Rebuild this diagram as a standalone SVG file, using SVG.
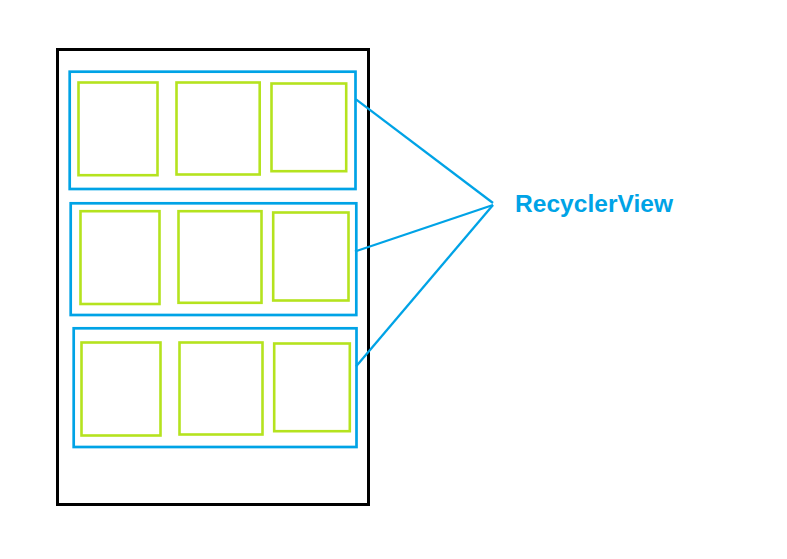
<svg xmlns="http://www.w3.org/2000/svg" width="787" height="559" viewBox="0 0 787 559">
<style>
.frame{fill:none;stroke:#000;stroke-width:3}
.row{fill:none;stroke:#00a3e6;stroke-width:2.7}
.item{fill:none;stroke:#b5e31e;stroke-width:2.6}
.conn{fill:none;stroke:#00a3e6;stroke-width:2.3}
.label{font-family:"Liberation Sans",Arial,sans-serif;font-weight:bold;font-size:24.5px;fill:#00a3e6}
</style>
<rect width="787" height="559" fill="#fff"/>
<g id="phone"><rect class="frame" x="57.5" y="49.5" width="311" height="455"/></g>
<g id="row1">
<rect class="row" x="69.7" y="71.7" width="285.8" height="117.3"/>
<rect class="item" x="78.5" y="82.5" width="79" height="92.7"/>
<rect class="item" x="176.5" y="82.5" width="83.2" height="92"/>
<rect class="item" x="271.5" y="83.5" width="74.7" height="87.7"/>
</g>
<g id="row2">
<rect class="row" x="70.7" y="203.3" width="285.6" height="111.7"/>
<rect class="item" x="80.5" y="211.2" width="79" height="92.8"/>
<rect class="item" x="178.5" y="211.2" width="83" height="91.6"/>
<rect class="item" x="273.2" y="212.5" width="75.3" height="88"/>
</g>
<g id="row3">
<rect class="row" x="73.7" y="328.3" width="282.8" height="118.7"/>
<rect class="item" x="81.5" y="342.5" width="79" height="93"/>
<rect class="item" x="179.5" y="342.5" width="83" height="92"/>
<rect class="item" x="274.2" y="343.5" width="75.6" height="87.7"/>
</g>
<g id="connectors">
<line class="conn" x1="356" y1="99.3" x2="493" y2="203"/>
<line class="conn" x1="355" y1="251.5" x2="493" y2="205"/>
<line class="conn" x1="356" y1="366.5" x2="493" y2="205"/>
</g>
<g id="label"><text class="label" x="515" y="211.5" textLength="158">RecyclerView</text></g>
</svg>
